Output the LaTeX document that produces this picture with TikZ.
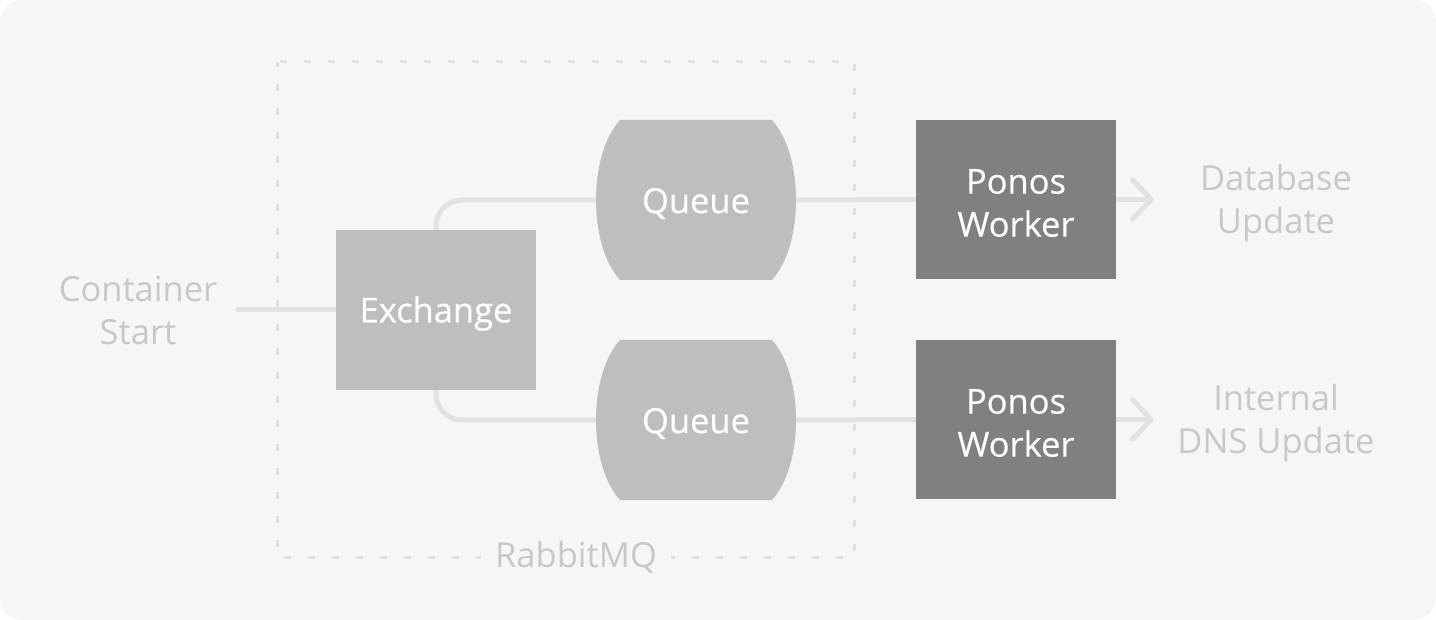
\documentclass[tikz,border=0pt]{standalone}
\usepackage{fontspec}
\setmainfont{Open Sans}
\usetikzlibrary{arrows.meta}
\definecolor{bgc}{HTML}{F6F6F6}
\definecolor{linec}{HTML}{E2E2E2}
\definecolor{dashc}{HTML}{E0E0E0}
\definecolor{boxc}{HTML}{BEBEBE}
\definecolor{workc}{HTML}{808080}
\definecolor{labc}{HTML}{C8C8C8}
\tikzset{
  bigtext/.style={font=\fontsize{34.5}{43}\selectfont},
  solidbox/.style={minimum width=200pt, minimum height=160pt, inner sep=0pt},
  intext/.style={bigtext, text=white, align=center, inner sep=0pt, yshift=-3.5pt,
    font=\fontsize{34.5}{43}\selectfont\addfontfeature{FakeBold=0.4}},
  conn/.style={draw=linec, line width=5pt},
  lab/.style={bigtext, text=labc, align=center, inner sep=0pt},
  tip/.style={-{Straight Barb[length=19pt,width=40pt,round]}},
}
\begin{document}
\begin{tikzpicture}[x=1pt,y=-1pt]
\useasboundingbox (0,0) rectangle (1436,620);
\fill[bgc, rounded corners=22pt] (0,0) rectangle (1436,620);
% RabbitMQ dashed frame
\draw[dashc, line width=3pt, dash pattern=on 7pt off 17pt, dash phase=2pt] (277,62) rectangle (854,557);
% queue shapes
\foreach \yc in {200, 420}{
  \fill[boxc] (620,\yc-80) -- (772,\yc-80)
    .. controls (788,\yc-62) and (796,\yc-32) .. (796,\yc)
    .. controls (796,\yc+32) and (788,\yc+62) .. (772,\yc+80)
    -- (620,\yc+80)
    .. controls (604,\yc+62) and (596,\yc+32) .. (596,\yc)
    .. controls (596,\yc-32) and (604,\yc-62) .. (620,\yc-80) -- cycle;
}
\node[solidbox, label={[intext]center:Queue}] (q1) at (696,200) {};
\node[solidbox, label={[intext]center:Queue}] (q2) at (696,420) {};
\node[solidbox, fill=boxc, label={[intext]center:Exchange}] (ex) at (436,310) {};
\node[solidbox, fill=workc, minimum height=159pt, label={[intext]center:Ponos\\Worker}] (w1) at (1016,199.5) {};
\node[solidbox, fill=workc, minimum height=159pt, label={[intext]center:Ponos\\Worker}] (w2) at (1016,419.5) {};
\node[lab, minimum width=196pt] (cs) at (138,310.5) {Container\\Start};
\node[lab, minimum width=236pt] (du) at (1276,203.5) {Database\\Update};
\node[lab, minimum width=236pt] (dns) at (1276,423.5) {Internal\\DNS Update};
\node[lab, fill=bgc, inner xsep=14pt, inner ysep=2pt] (rmq) at (576,557) {RabbitMQ};
% connectors
\draw[conn] (ex.west -| cs.east) -- (ex.west);
\draw[conn, rounded corners=26pt] (ex.north) |- (q1.west);
\draw[conn, rounded corners=26pt] (ex.south) |- (q2.west);
\draw[conn] (q1.east) -- (w1.west);
\draw[conn] (q2.east) -- (w2.west);
\draw[conn, tip] (w1.east) -- ([xshift=-4pt]w1.east -| du.west);
\draw[conn, tip] (w2.east) -- ([xshift=-4pt]w2.east -| dns.west);
\end{tikzpicture}
\end{document}
